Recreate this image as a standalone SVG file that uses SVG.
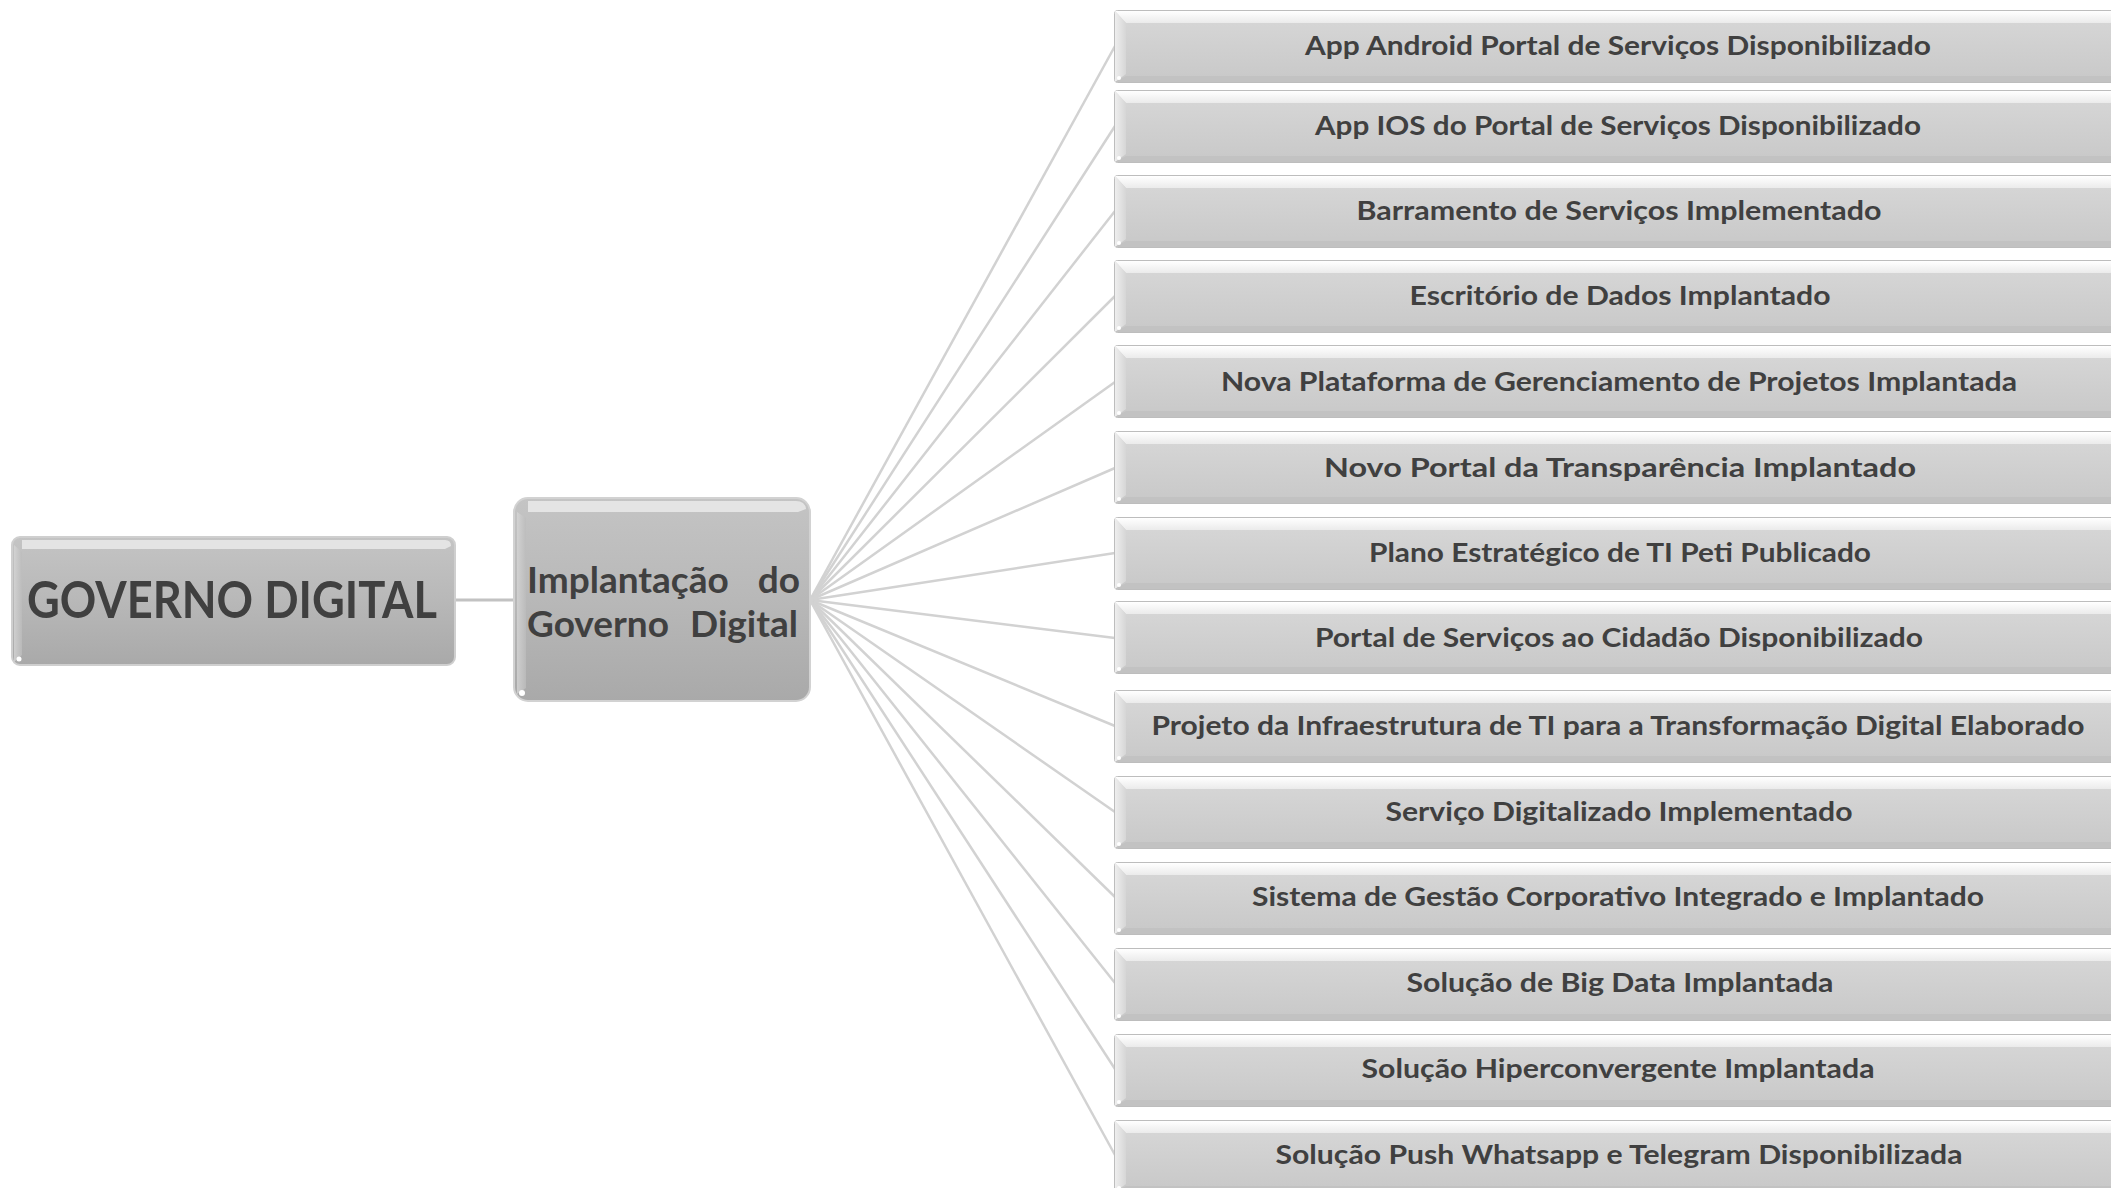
<svg xmlns="http://www.w3.org/2000/svg" xmlns:xlink="http://www.w3.org/1999/xlink" width="2111" height="1188" viewBox="0 0 2111 1188">
<style>
.t{font-family:Lato,"Open Sans","Liberation Sans",sans-serif;font-weight:bold;fill:#404040;font-size:26px;text-anchor:middle}
.big{font-family:Lato,"Open Sans","Liberation Sans",sans-serif;font-weight:bold;fill:#404040}
.fan{stroke:#d2d2d2;stroke-width:2.5;fill:none}
</style>
<defs>
<linearGradient id="gBox" x1="0" y1="0" x2="0" y2="1"><stop offset="0" stop-color="#d8d8d8"/><stop offset="1" stop-color="#c8c8c8"/></linearGradient>
<linearGradient id="gTop" x1="0" y1="0" x2="0" y2="1"><stop offset="0" stop-color="#ffffff"/><stop offset="1" stop-color="#ebebeb"/></linearGradient>
<linearGradient id="gLeft" x1="0" y1="0" x2="1" y2="0"><stop offset="0" stop-color="#eeeeee"/><stop offset="1" stop-color="#d6d6d6"/></linearGradient>
<linearGradient id="gDark" x1="0" y1="0" x2="0" y2="1"><stop offset="0" stop-color="#c4c4c4"/><stop offset="0.5" stop-color="#b8b8b8"/><stop offset="1" stop-color="#a9a9a9"/></linearGradient>
<linearGradient id="gDarkL" x1="0" y1="0" x2="1" y2="0"><stop offset="0" stop-color="#d6d6d6"/><stop offset="1" stop-color="#bcbcbc"/></linearGradient>
<g id="bx">
<rect x="0.5" y="0.5" width="1010" height="72" rx="3" fill="url(#gBox)" stroke="#bdbdbd" stroke-width="1"/>
<path d="M1,1 H1010 L1000,13 H12 Z" fill="url(#gTop)"/>
<path d="M1,1 L12,13 V64 L1,72 Z" fill="url(#gLeft)"/>
<path d="M1,72 L12,66 H1000 L1010,72 Z" fill="#c2c2c2"/>
<circle cx="5" cy="68" r="2" fill="#ffffff"/>
</g>
</defs>
<rect width="2111" height="1188" fill="#ffffff"/>
<g id="connectors">
<line x1="455" y1="600" x2="514" y2="600" stroke="#c2c2c2" stroke-width="3"/>
<line class="fan" x1="810" y1="600" x2="1115" y2="46"/>
<line class="fan" x1="810" y1="600" x2="1115" y2="126"/>
<line class="fan" x1="810" y1="600" x2="1115" y2="211"/>
<line class="fan" x1="810" y1="600" x2="1115" y2="296"/>
<line class="fan" x1="810" y1="600" x2="1115" y2="382"/>
<line class="fan" x1="810" y1="600" x2="1115" y2="468"/>
<line class="fan" x1="810" y1="600" x2="1115" y2="553"/>
<line class="fan" x1="810" y1="600" x2="1115" y2="638"/>
<line class="fan" x1="810" y1="600" x2="1115" y2="726"/>
<line class="fan" x1="810" y1="600" x2="1115" y2="812"/>
<line class="fan" x1="810" y1="600" x2="1115" y2="897"/>
<line class="fan" x1="810" y1="600" x2="1115" y2="983"/>
<line class="fan" x1="810" y1="600" x2="1115" y2="1069"/>
<line class="fan" x1="810" y1="600" x2="1115" y2="1155"/>
</g>
<g id="n-governo">
<rect x="12" y="537" width="443" height="128" rx="8" fill="url(#gDark)" stroke="#cfcfcf" stroke-width="2"/>
<path d="M22,540 H445 Q451,540 451,546 L445,549 H22 Z" fill="#ececec" opacity="0.8"/>
<path d="M14,545 L22,552 V655 L14,662 Z" fill="url(#gDarkL)" opacity="0.8"/>
<circle cx="19" cy="659" r="2.5" fill="#ffffff"/>
<text class="big" x="232" y="618" font-size="51" text-anchor="middle" textLength="410" lengthAdjust="spacingAndGlyphs">GOVERNO DIGITAL</text>
</g>
<g id="n-implantacao">
<rect x="514" y="498" width="296" height="203" rx="14" fill="url(#gDark)" stroke="#d2d2d2" stroke-width="2"/>
<path d="M528,501 H796 Q805,501 806,509 L798,512 H528 Z" fill="#ececec" opacity="0.8"/>
<path d="M517,512 L526,518 V688 L517,694 Z" fill="url(#gDarkL)" opacity="0.8"/>
<circle cx="522" cy="693" r="3" fill="#ffffff"/>
<text class="big" font-size="37"><tspan x="527" y="593">Implantação</tspan><tspan x="800" y="593" text-anchor="end">do</tspan></text>
<text class="big" font-size="37"><tspan x="527" y="637">Governo</tspan><tspan x="798" y="637" text-anchor="end">Digital</tspan></text>
</g>
<g id="n1"><use xlink:href="#bx" x="1114" y="10"/><text class="t" x="1618" y="55" textLength="626" lengthAdjust="spacingAndGlyphs">App Android Portal de Serviços Disponibilizado</text></g>
<g id="n2"><use xlink:href="#bx" x="1114" y="90"/><text class="t" x="1618" y="135" textLength="606" lengthAdjust="spacingAndGlyphs">App IOS do Portal de Serviços Disponibilizado</text></g>
<g id="n3"><use xlink:href="#bx" x="1114" y="175"/><text class="t" x="1619" y="220" textLength="525" lengthAdjust="spacingAndGlyphs">Barramento de Serviços Implementado</text></g>
<g id="n4"><use xlink:href="#bx" x="1114" y="260"/><text class="t" x="1620" y="305" textLength="421" lengthAdjust="spacingAndGlyphs">Escritório de Dados Implantado</text></g>
<g id="n5"><use xlink:href="#bx" x="1114" y="345"/><text class="t" x="1619" y="391" textLength="796" lengthAdjust="spacingAndGlyphs">Nova Plataforma de Gerenciamento de Projetos Implantada</text></g>
<g id="n6"><use xlink:href="#bx" x="1114" y="431"/><text class="t" x="1620" y="477" textLength="592" lengthAdjust="spacingAndGlyphs">Novo Portal da Transparência Implantado</text></g>
<g id="n7"><use xlink:href="#bx" x="1114" y="517"/><text class="t" x="1620" y="562" textLength="502" lengthAdjust="spacingAndGlyphs">Plano Estratégico de TI Peti Publicado</text></g>
<g id="n8"><use xlink:href="#bx" x="1114" y="601"/><text class="t" x="1619" y="647" textLength="608" lengthAdjust="spacingAndGlyphs">Portal de Serviços ao Cidadão Disponibilizado</text></g>
<g id="n9"><use xlink:href="#bx" x="1114" y="690"/><text class="t" x="1618" y="735" textLength="933" lengthAdjust="spacingAndGlyphs">Projeto da Infraestrutura de TI para a Transformação Digital Elaborado</text></g>
<g id="n10"><use xlink:href="#bx" x="1114" y="776"/><text class="t" x="1619" y="821" textLength="467" lengthAdjust="spacingAndGlyphs">Serviço Digitalizado Implementado</text></g>
<g id="n11"><use xlink:href="#bx" x="1114" y="862"/><text class="t" x="1618" y="906" textLength="732" lengthAdjust="spacingAndGlyphs">Sistema de Gestão Corporativo Integrado e Implantado</text></g>
<g id="n12"><use xlink:href="#bx" x="1114" y="948"/><text class="t" x="1620" y="992" textLength="427" lengthAdjust="spacingAndGlyphs">Solução de Big Data Implantada</text></g>
<g id="n13"><use xlink:href="#bx" x="1114" y="1034"/><text class="t" x="1618" y="1078" textLength="513" lengthAdjust="spacingAndGlyphs">Solução Hiperconvergente Implantada</text></g>
<g id="n14"><use xlink:href="#bx" x="1114" y="1120"/><text class="t" x="1619" y="1164" textLength="687" lengthAdjust="spacingAndGlyphs">Solução Push Whatsapp e Telegram Disponibilizada</text></g>
</svg>
